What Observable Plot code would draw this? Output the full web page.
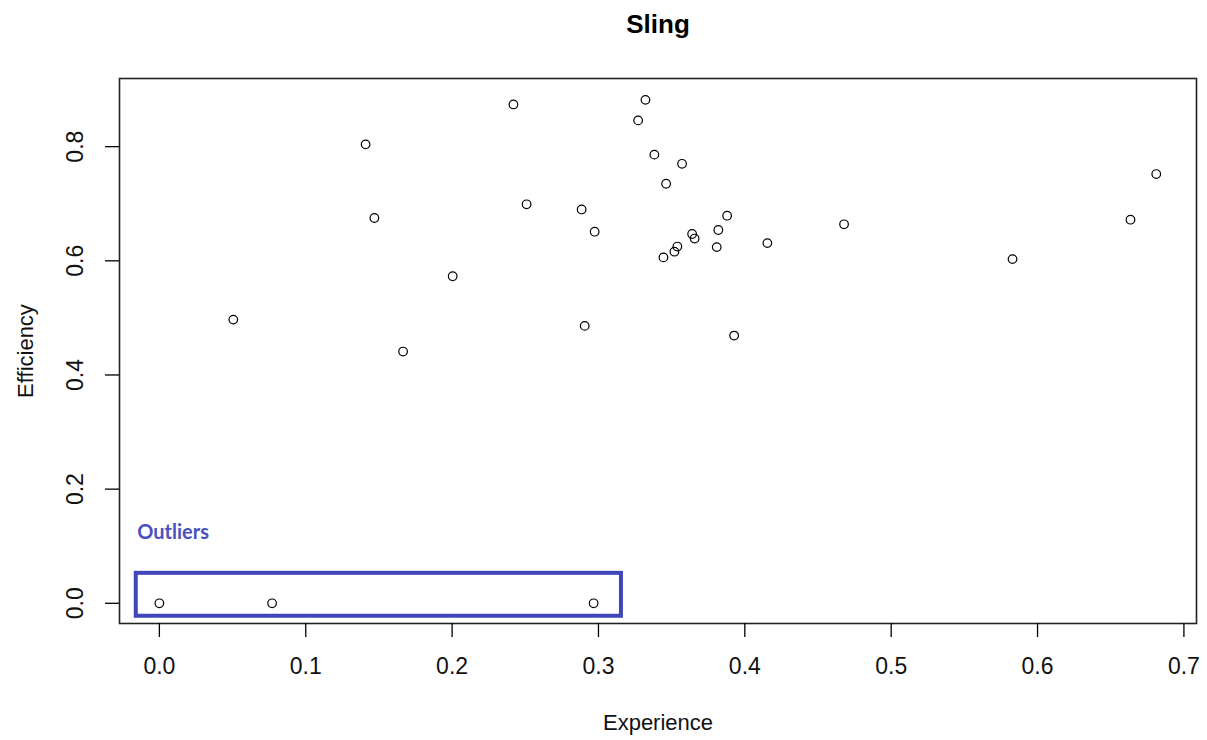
<!DOCTYPE html>
<html>
<head>
<meta charset="utf-8">
<script src="https://cdn.jsdelivr.net/npm/d3@7"></script>
<script src="https://cdn.jsdelivr.net/npm/@observablehq/plot@0.6"></script>
<style>
  html, body { margin: 0; padding: 0; background: #fff; }
</style>
</head>
<body>
<div id="chart"></div>
<script>
// Data
const experience = [0, 0.077, 0.2967, 0.0505, 0.1409, 0.1469, 0.1665, 0.2004, 0.2419, 0.2509,
  0.2885, 0.2906, 0.2974, 0.3271, 0.3321, 0.3382, 0.3462, 0.3571, 0.3444, 0.3519,
  0.3539, 0.3640, 0.3657, 0.3808, 0.3819, 0.3879, 0.3927, 0.4154, 0.4678, 0.5829,
  0.6635, 0.6811];
const efficiency = [0, 0, 0, 0.497, 0.804, 0.675, 0.441, 0.573, 0.874, 0.699,
  0.690, 0.486, 0.651, 0.846, 0.882, 0.786, 0.735, 0.770, 0.606, 0.616,
  0.625, 0.647, 0.639, 0.624, 0.654, 0.679, 0.469, 0.631, 0.664, 0.603,
  0.672, 0.752];
const xTicks = [0, 0.1, 0.2, 0.3, 0.4, 0.5, 0.6, 0.7];
const yTicks = [0, 0.2, 0.4, 0.6, 0.8];
const titleText = "Sling";
const xLabel = "Experience";
const yLabel = "Efficiency";
// Outlier annotation box (data units) and its label
const outlierBox = [{x1: -0.0158, x2: 0.3157, y1: -0.0227, y2: 0.0525}];
const outlierLabel = [{x: -0.0151, y: 0.124, text: "Outliers"}];

const points = experience.map((x, i) => ({x, y: efficiency[i]}));

const font = "'Liberation Sans', Arial, sans-serif";

const chart = Plot.plot({
  width: 1207,
  height: 740,
  marginLeft: 119,
  marginRight: 11,
  marginTop: 78,
  marginBottom: 117,
  style: {fontFamily: font, fontSize: "22px", background: "#fff", color: "#000"},
  x: {domain: [-0.02725, 0.7086]},
  y: {domain: [-0.0354, 0.9194]},
  marks: [
    Plot.frame({stroke: "#222", strokeWidth: 1.6}),
    Plot.axisX({ticks: xTicks, tickSize: 14, tickPadding: 20, fontSize: 23,
      tickFormat: d3.format(".1f"), label: null, strokeWidth: 1.3, fill: "#111"}),
    Plot.axisY({ticks: yTicks, tickSize: 14, tickFormat: () => "", label: null, strokeWidth: 1.3}),
    Plot.text(yTicks, {y: d => d, text: d => d3.format(".1f")(d), frameAnchor: "left",
      dx: -44, rotate: -90, textAnchor: "middle", lineAnchor: "middle", fontSize: 23, fill: "#111"}),
    Plot.rect(outlierBox, {x1: "x1", x2: "x2", y1: "y1", y2: "y2",
      fill: "none", stroke: "#3f47b8", strokeWidth: 4}),
    Plot.text(outlierLabel, {x: "x", y: "y", text: "text", textAnchor: "start",
      lineAnchor: "middle", fill: "#4a51c2", fontWeight: "bold", fontSize: 20,
      fontFamily: "Lato, 'Open Sans', sans-serif"}),
    Plot.dot(points, {x: "x", y: "y", r: 4.3, stroke: "#000", strokeWidth: 1.2, fill: "none"}),
    Plot.text([titleText], {frameAnchor: "top", dy: -53.5, text: d => d, fontWeight: "bold",
      fontSize: 26, lineAnchor: "middle", fill: "#000"}),
    Plot.text([xLabel], {frameAnchor: "bottom", dy: 99, text: d => d, fontSize: 22,
      lineAnchor: "middle", fill: "#111"}),
    Plot.text([yLabel], {frameAnchor: "left", dx: -94, rotate: -90, text: d => d, fontSize: 22,
      lineAnchor: "middle", textAnchor: "middle", fill: "#111"})
  ]
});

document.getElementById("chart").appendChild(chart);
</script>
</body>
</html>
